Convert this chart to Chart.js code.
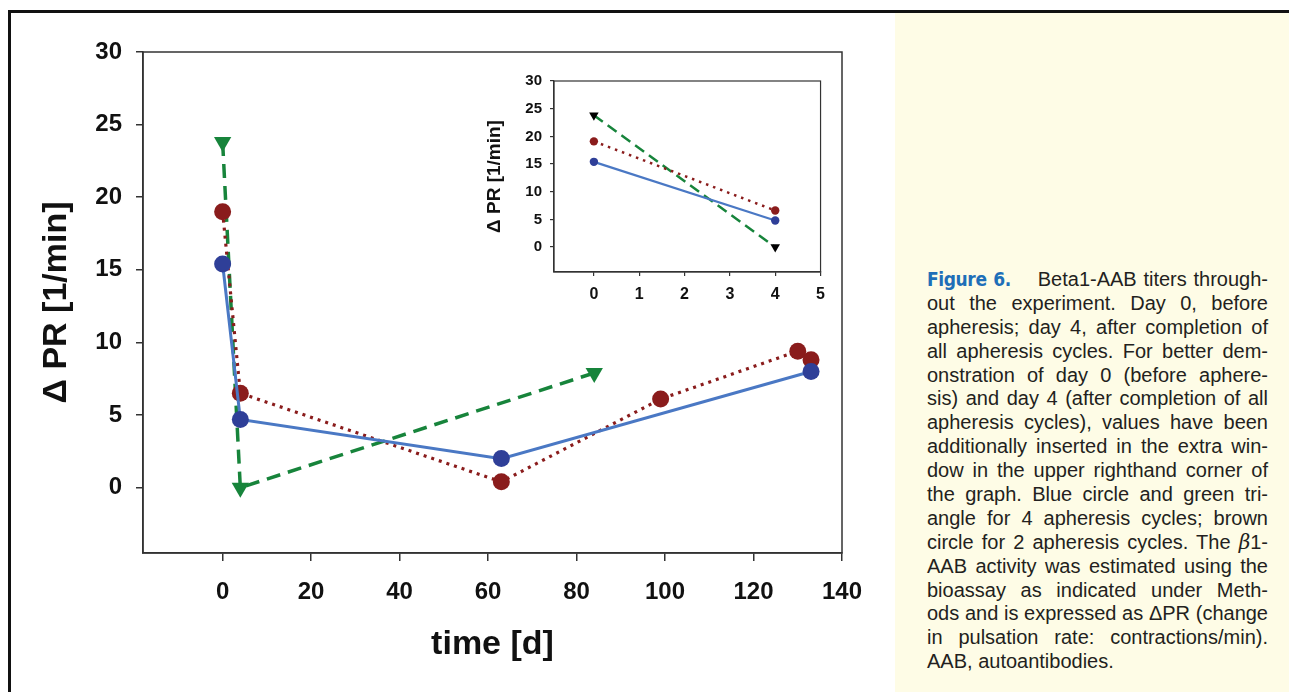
<!DOCTYPE html>
<html><head><meta charset="utf-8">
<script src="https://cdn.jsdelivr.net/npm/chart.js@4.4.0/dist/chart.umd.min.js"></script>
<style>
html,body{margin:0;padding:0;background:#fff;width:1289px;height:692px;overflow:hidden;position:relative;font-family:"Liberation Sans",Arial,sans-serif}
#frameTop{position:absolute;left:8px;top:10px;width:1281px;height:3px;background:#111}
#frameLeft{position:absolute;left:8px;top:10px;width:3px;height:682px;background:#111}
#panel{position:absolute;left:895px;top:13px;width:394px;height:679px;background:#FEFCE6}
#main{position:absolute;left:0;top:0}
#inset{position:absolute;left:470px;top:64px}
#caption{position:absolute;left:927px;top:268px;width:341px;font-size:20px;line-height:23.9px;color:#231f20}
#caption div{height:23.9px;overflow:visible}
.j{text-align:justify;text-align-last:justify}
.fig{color:#1e6fb8;font-weight:bold;font-size:19px;font-family:"DejaVu Sans Condensed","Liberation Sans Narrow","Liberation Sans",Arial,sans-serif;letter-spacing:-0.4px}
</style></head>
<body>
<div id="frameTop"></div><div id="frameLeft"></div><div id="panel"></div>
<canvas id="main" width="893" height="692"></canvas>
<canvas id="inset" width="364" height="246"></canvas>
<div id="caption">
<div class="j"><span class="fig">Figure 6.</span>&nbsp;&nbsp;&nbsp; Beta1-AAB titers through-</div>
<div class="j">out the experiment. Day 0, before</div>
<div class="j">apheresis; day 4, after completion of</div>
<div class="j">all apheresis cycles. For better dem-</div>
<div class="j">onstration of day 0 (before aphere-</div>
<div class="j">sis) and day 4 (after completion of all</div>
<div class="j">apheresis cycles), values have been</div>
<div class="j">additionally inserted in the extra win-</div>
<div class="j">dow in the upper righthand corner of</div>
<div class="j">the graph. Blue circle and green tri-</div>
<div class="j">angle for 4 apheresis cycles; brown</div>
<div class="j">circle for 2 apheresis cycles. The <i style="font-family:'DejaVu Serif',serif">β</i>1-</div>
<div class="j">AAB activity was estimated using the</div>
<div class="j">bioassay as indicated under Meth-</div>
<div class="j">ods and is expressed as ΔPR (change</div>
<div class="j">in pulsation rate: contractions/min).</div>
<div>AAB, autoantibodies.</div>
</div>
<script>
// ---- data ----
const xTicks = [0, 20, 40, 60, 80, 100, 120, 140];
const yTicks = [0, 5, 10, 15, 20, 25, 30];
const blueDays = [0, 4, 63, 133];
const blueVals = [15.4, 4.7, 2.0, 8.0];
const brownDays = [0, 4, 63, 99, 130, 133];
const brownVals = [19.0, 6.5, 0.4, 6.1, 9.4, 8.8];
const greenDays = [0, 4, 84];
const greenVals = [23.8, 0, 7.9];
const insetXTicks = [0, 1, 2, 3, 4, 5];
const insetDays = [0, 4];
const insetBlue = [15.4, 4.8];
const insetBrown = [19.1, 6.6];
const insetGreen = [23.8, 0];

const pts = (xs, ys) => xs.map((x, i) => ({x: x, y: ys[i]}));
const FONT = 'Liberation Sans';
const BLUE_LINE = '#4a78c4', BLUE_PT = '#2f3f98', BROWN = '#8a1c1c', GREEN = '#17843b';

const boxPlugin = {
  id: 'box',
  beforeDatasetsDraw(chart, args, opts) {
    const a = chart.chartArea, ctx = chart.ctx;
    ctx.save();
    ctx.strokeStyle = '#333'; ctx.lineWidth = opts.w || 1.5;
    ctx.strokeRect(a.left, a.top, a.right - a.left, a.bottom - a.top);
    ctx.restore();
  }
};

function axis(cfg) {
  return {
    type: 'linear', min: cfg.min, max: cfg.max,
    afterBuildTicks: s => { s.ticks = cfg.ticks.map(v => ({value: v})); },
    afterFit: s => { if (cfg.w) s.width = cfg.w; if (cfg.h) s.height = cfg.h; },
    grid: {drawOnChartArea: false, drawTicks: true, tickLength: cfg.tl, color: '#333', lineWidth: cfg.lw},
    border: {display: true, color: '#333', width: cfg.lw},
    ticks: {color: '#111', padding: cfg.pad, maxRotation: 0, autoSkip: false,
            font: {family: FONT, size: cfg.fs, weight: 'bold'}},
    title: cfg.title ? {display: true, text: cfg.title, color: '#111',
            font: {family: FONT, size: cfg.tfs, weight: 'bold'}, padding: cfg.tpad} : {display: false}
  };
}

new Chart(document.getElementById('main'), {
  type: 'scatter',
  data: {datasets: [
    {data: pts(blueDays, blueVals), showLine: true, borderColor: BLUE_LINE, borderWidth: 3,
     pointBackgroundColor: BLUE_PT, pointBorderColor: BLUE_PT, pointRadius: 8.5, pointBorderWidth: 0},
    {data: pts(brownDays, brownVals), showLine: true, borderColor: BROWN, borderWidth: 3.2, borderDash: [3, 5],
     pointBackgroundColor: BROWN, pointBorderColor: BROWN, pointRadius: 8.5, pointBorderWidth: 0},
    {data: pts(greenDays, greenVals), showLine: true, borderColor: GREEN, borderWidth: 3.5, borderDash: [14, 8],
     pointStyle: 'triangle', pointRotation: 180, pointBackgroundColor: GREEN, pointBorderColor: GREEN,
     pointRadius: 10, pointBorderWidth: 0}
  ]},
  options: {
    responsive: false, animation: false,
    layout: {padding: {left: 0, right: 51, top: 52, bottom: 0}},
    plugins: {legend: {display: false}, tooltip: {enabled: false}, box: {w: 1.5}},
    elements: {line: {tension: 0}},
    scales: {
      x: axis({min: -18, max: 140, ticks: xTicks, h: 139, tl: 8, lw: 1.5, pad: 17, fs: 24,
               title: 'time [d]', tfs: 34, tpad: {top: 0, bottom: 27}}),
      y: axis({min: -4.5, max: 30, ticks: yTicks, w: 143, tl: 7, lw: 1.5, pad: 14, fs: 24,
               title: 'Δ PR [1/min]', tfs: 34, tpad: {top: 36, bottom: 0}})
    }
  },
  plugins: [boxPlugin]
});

new Chart(document.getElementById('inset'), {
  type: 'scatter',
  data: {datasets: [
    {data: pts(insetDays, insetBlue), showLine: true, borderColor: BLUE_LINE, borderWidth: 2.2,
     pointBackgroundColor: BLUE_PT, pointBorderColor: BLUE_PT, pointRadius: 4.2, pointBorderWidth: 0},
    {data: pts(insetDays, insetBrown), showLine: true, borderColor: BROWN, borderWidth: 2.5, borderDash: [2.5, 5],
     pointBackgroundColor: BROWN, pointBorderColor: BROWN, pointRadius: 4.2, pointBorderWidth: 0},
    {data: pts(insetDays, insetGreen), showLine: true, borderColor: GREEN, borderWidth: 2.5, borderDash: [11, 6],
     pointStyle: 'triangle', pointRotation: 180, pointBackgroundColor: '#000', pointBorderColor: '#000',
     pointRadius: 5.5, pointBorderWidth: 0}
  ]},
  options: {
    responsive: false, animation: false,
    layout: {padding: {left: 0, right: 9, top: 10, bottom: 0}},
    plugins: {legend: {display: false}, tooltip: {enabled: false}, box: {w: 1.2}},
    elements: {line: {tension: 0}},
    scales: {
      x: axis({min: -0.88, max: 5, ticks: insetXTicks, h: 38, tl: 4, lw: 1.2, pad: 9, fs: 16}),
      y: axis({min: -4.5, max: 30, ticks: yTicks, w: 84, tl: 4, lw: 1.2, pad: 8, fs: 15,
               title: 'Δ PR [1/min]', tfs: 19, tpad: {top: 13, bottom: 0}})
    }
  },
  plugins: [boxPlugin]
});

// fit caption lines on one line each
document.querySelectorAll('#caption div').forEach(d => {
  let ls = 0;
  d.style.height = 'auto';
  while (d.getBoundingClientRect().height > 30 && ls > -2) { ls -= 0.1; d.style.letterSpacing = ls + 'px'; }
  d.style.height = '23.9px';
});
</script>
</body></html>
